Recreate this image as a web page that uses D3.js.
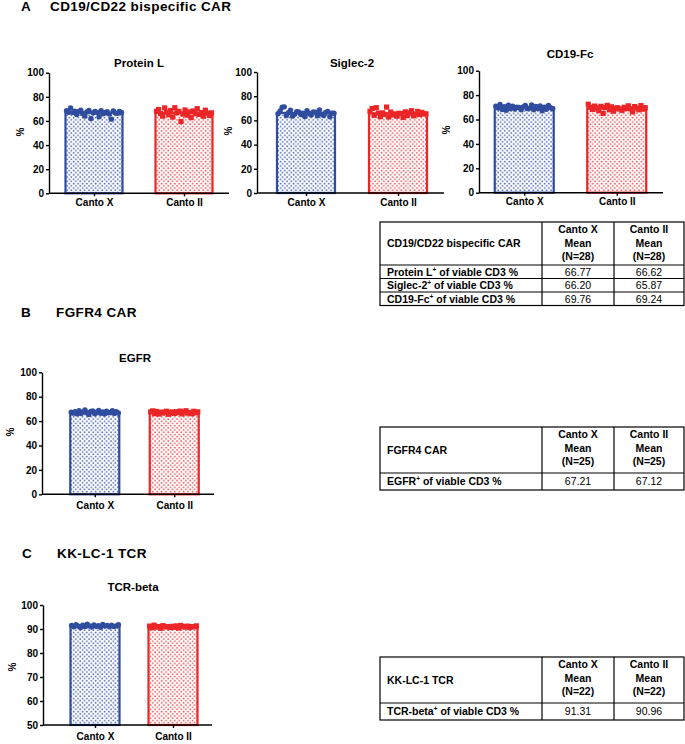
<!DOCTYPE html>
<html>
<head>
<meta charset="utf-8">
<script src="https://cdn.jsdelivr.net/npm/d3@7"></script>
<style>
body { margin: 0; background: #fff; }
text { font-family: "Liberation Sans", Arial, Helvetica, sans-serif; }
</style>
</head>
<body>
<script>
// categories and groups
var cats = ["Canto X", "Canto II"];
var ticksPct = [0, 20, 40, 60, 80, 100];
var ticksTcr = [50, 60, 70, 80, 90, 100];

// individual values (approx.)
var protLX = [68.5, 67.2, 70.8, 66.9, 68.1, 65.3, 67.8, 69.0, 66.2, 64.1, 67.5, 68.8, 62.0, 66.7,
              67.9, 67.1, 63.5, 68.4, 66.0, 67.0, 67.6, 65.8, 61.5, 68.2, 66.5, 66.3, 67.9, 67.0];
var protLII = [68.0, 69.5, 66.2, 64.0, 70.8, 67.3, 65.1, 68.7, 63.2, 71.0, 66.8, 67.9, 59.5, 65.7,
               69.1, 64.8, 67.5, 62.8, 68.3, 66.0, 70.2, 65.4, 67.0, 63.9, 68.9, 66.5, 64.6, 66.7];
var sigX = [65.5, 67.8, 70.9, 71.2, 64.0, 66.3, 68.5, 63.5, 65.0, 67.2, 67.0, 64.8, 66.0, 63.2,
            68.1, 65.7, 64.5, 67.0, 66.8, 63.8, 68.7, 65.2, 64.1, 66.5, 67.4, 63.0, 66.0, 65.9];
var sigII = [67.5, 69.8, 64.2, 70.5, 66.0, 63.1, 66.2, 65.0, 71.0, 62.8, 66.9, 64.5, 65.4, 63.5,
             65.9, 65.6, 62.5, 67.1, 64.0, 66.3, 68.0, 63.8, 65.2, 67.4, 64.8, 66.6, 65.4, 65.4];
var cd19X = [71.0, 69.5, 72.3, 68.2, 70.4, 67.5, 71.8, 69.0, 70.9, 68.6, 70.0, 69.8, 67.9, 70.2,
             71.5, 68.9, 69.3, 72.0, 68.0, 70.6, 69.1, 71.2, 67.2, 70.0, 68.4, 71.6, 69.6, 68.8];
var cd19II = [72.5, 70.1, 68.3, 71.0, 69.5, 67.2, 70.8, 65.0, 69.9, 71.6, 68.0, 70.4, 66.8, 69.2,
              69.6, 68.6, 67.5, 70.0, 69.0, 71.2, 68.8, 66.2, 70.6, 69.4, 67.9, 71.4, 68.5, 69.7];
var egfrX = [67.35, 66.5, 67.8, 65.9, 68.6, 66.2, 67.4, 69.1, 66.8, 65.5, 67.9, 68.3, 66.0,
             67.2, 68.8, 66.4, 67.6, 65.8, 68.1, 66.9, 67.0, 68.5, 66.3, 67.7, 66.6];
var egfrII = [67.5, 68.4, 66.1, 67.9, 65.8, 67.3, 66.6, 67.3, 68.1, 65.6, 67.0, 67.5, 66.3,
              67.7, 66.9, 68.2, 65.9, 67.4, 68.5, 66.5, 67.1, 66.0, 68.0, 66.8, 67.6];
var tcrX = [91.5, 90.9, 91.8, 91.2, 90.6, 91.6, 91.0, 92.0, 91.3, 90.8, 91.7,
            91.1, 91.4, 90.7, 91.9, 91.2, 91.5, 90.9, 91.6, 91.0, 91.3, 91.8];
var tcrII = [91.2, 90.5, 91.6, 90.8, 91.0, 90.3, 91.4, 90.9, 91.0, 90.6, 91.1,
             90.7, 91.3, 90.4, 91.5, 91.0, 90.8, 91.2, 90.6, 91.0, 90.9, 91.3];

// means from the tables (bar heights)
var meanProtL = [66.77, 66.62];
var meanSig = [66.20, 65.87];
var meanCd19 = [69.76, 69.24];
var meanEgfr = [67.21, 67.12];
var meanTcr = [91.31, 90.96];
var nA = [28, 28], nB = [25, 25], nC = [22, 22];

var cols = ["#2f4c9f", "#ec2527"];
var dotCols = ["#4862b8", "#ee4c4e"];

var svg = d3.select("body").append("svg")
    .attr("width", 685)
    .attr("height", 744);

// dotted fill
var defs = svg.append("defs");
[0, 1].forEach(function(i) {
    var p = defs.append("pattern")
        .attr("id", "dots" + i)
        .attr("patternUnits", "userSpaceOnUse")
        .attr("width", 4.4).attr("height", 4.4);
    p.append("rect").attr("width", 4.4).attr("height", 4.4).attr("fill", "#fff");
    p.append("rect").attr("x", 0.3).attr("y", 0.3).attr("width", 1.5).attr("height", 1.5).attr("fill", dotCols[i]);
    p.append("rect").attr("x", 2.5).attr("y", 2.5).attr("width", 1.5).attr("height", 1.5).attr("fill", dotCols[i]);
});

//panel headings
function heading(letter, title, xl, xt, y) {
    svg.append("text").attr("x", xl).attr("y", y).text(letter)
        .attr("font-size", "13.5px").attr("font-weight", "bold").attr("letter-spacing", "0.4px");
    svg.append("text").attr("x", xt).attr("y", y).text(title)
        .attr("font-size", "13.5px").attr("font-weight", "bold").attr("letter-spacing", "0.4px");
}
heading("A", "CD19/CD22 bispecific CAR", 21, 50, 11);
heading("B", "FGFR4 CAR", 21, 56, 317);
heading("C", "KK-LC-1 TCR", 22, 57, 558);

var charts = [
    {title: "Protein L", pts: [protLX, protLII], means: meanProtL, dom: [0, 100], ticks: ticksPct,
     ax: 49, band: [49, 229], yr: [193.3, 72.7], bw: 57, tx: 139, ty: 67, px: 20, py: 132, pad: 3},
    {title: "Siglec-2", pts: [sigX, sigII], means: meanSig, dom: [0, 100], ticks: ticksPct,
     ax: 257, band: [260, 444], yr: [193, 72], bw: 58, tx: 352, ty: 67, px: 228, py: 131, pad: 3},
    {title: "CD19-Fc", pts: [cd19X, cd19II], means: meanCd19, dom: [0, 100], ticks: ticksPct,
     ax: 479, band: [478, 663], yr: [192.7, 70.7], bw: 59, tx: 570, ty: 58, px: 446, py: 130, pad: 2.5},
    {title: "EGFR", pts: [egfrX, egfrII], means: meanEgfr, dom: [0, 100], ticks: ticksPct,
     ax: 42, band: [55, 214], yr: [494.3, 372.3], bw: 49, tx: 135, ty: 362, px: 10, py: 432, pad: 4.5},
    {title: "TCR-beta", pts: [tcrX, tcrII], means: meanTcr, dom: [50, 100], ticks: ticksTcr,
     ax: 43, band: [56, 212], yr: [725, 605], bw: 49, tx: 133, ty: 591, px: 12, py: 667, pad: 4.5}
];

function drawChart(c) {
    var x = d3.scalePoint().domain(cats).range(c.band).padding(0.5);
    var y = d3.scaleLinear().domain(c.dom).range(c.yr);
    var g = svg.append("g");

    // barres
    g.selectAll("rect.bar")
        .data(c.means)
        .enter()
        .append("rect")
        .attr("class", "bar")
        .attr("x", function(d, i) { return x(cats[i]) - c.bw / 2; })
        .attr("y", function(d) { return y(d); })
        .attr("width", c.bw)
        .attr("height", function(d) { return y(c.dom[0]) - y(d); })
        .attr("fill", function(d, i) { return "url(#dots" + i + ")"; })
        .attr("stroke", function(d, i) { return cols[i]; })
        .attr("stroke-width", 2.2);

    // points, spread over the bar width
    c.pts.forEach(function(arr, gi) {
        var x0 = x(cats[gi]) - c.bw / 2, n = arr.length;
        var sel = g.selectAll("p" + gi).data(arr).enter();
        if (gi === 0) {
            sel.append("circle")
                .attr("cx", function(d, i) { return x0 + c.bw * (i + 0.5) / n; })
                .attr("cy", function(d) { return y(d); })
                .attr("r", 2.7)
                .attr("fill", cols[0]);
        } else {
            sel.append("rect")
                .attr("x", function(d, i) { return x0 + c.bw * (i + 0.5) / n - 2.6; })
                .attr("y", function(d) { return y(d) - 2.6; })
                .attr("width", 5.2).attr("height", 5.2)
                .attr("fill", cols[1]);
        }
    });

    // axes
    var ya = g.append("g")
        .attr("transform", "translate(" + c.ax + ",0)")
        .call(d3.axisLeft(y).tickValues(c.ticks).tickSize(3).tickSizeOuter(0).tickPadding(2));
    var xa = g.append("g")
        .attr("transform", "translate(0," + c.yr[0] + ")")
        .call(d3.axisBottom(x).tickSize(3).tickSizeOuter(0).tickPadding(c.pad));
    xa.select(".domain").remove();
    g.append("line")
        .attr("x1", c.ax).attr("x2", c.band[1])
        .attr("y1", c.yr[0]).attr("y2", c.yr[0])
        .attr("stroke", "#000").attr("stroke-width", 1.4);
    [ya, xa].forEach(function(a) {
        a.attr("font-family", null).attr("font-size", null);
        a.selectAll("text").attr("font-size", "10px").attr("font-weight", "bold").attr("fill", "#000");
        a.selectAll("line").attr("stroke", "#000").attr("stroke-width", 1.4);
        a.selectAll(".domain").attr("stroke", "#000").attr("stroke-width", 1.4);
    });

    // titre et libellé
    g.append("text").text(c.title)
        .attr("x", c.tx).attr("y", c.ty)
        .attr("text-anchor", "middle")
        .attr("font-size", "11.5px").attr("font-weight", "bold");
    g.append("text").text("%")
        .attr("transform", "translate(" + c.px + "," + c.py + ") rotate(-90)")
        .attr("text-anchor", "middle")
        .attr("dy", "0.35em")
        .attr("font-size", "10px").attr("font-weight", "bold");
}
charts.forEach(drawChart);

// tables
var colW = [162, 72, 70];
var tables = [
    {x: 380, y: 222, headH: 43, rowH: 13.5, title: "CD19/CD22 bispecific CAR", n: nA,
     rows: [["Protein L", " of viable CD3 %", meanProtL],
            ["Siglec-2", " of viable CD3 %", meanSig],
            ["CD19-Fc", " of viable CD3 %", meanCd19]]},
    {x: 380, y: 427, headH: 46, rowH: 17, title: "FGFR4 CAR", n: nB,
     rows: [["EGFR", " of viable CD3 %", meanEgfr]]},
    {x: 380, y: 657, headH: 46, rowH: 17, title: "KK-LC-1 TCR", n: nC,
     rows: [["TCR-beta", " of viable CD3 %", meanTcr]]}
];

function drawTable(t) {
    var g = svg.append("g");
    var xs = [t.x, t.x + colW[0], t.x + colW[0] + colW[1], t.x + colW[0] + colW[1] + colW[2]];
    var H = t.headH + t.rows.length * t.rowH;
    g.append("rect")
        .attr("x", xs[0]).attr("y", t.y)
        .attr("width", xs[3] - xs[0]).attr("height", H)
        .attr("fill", "none").attr("stroke", "#000").attr("stroke-width", 1.2);
    [xs[1], xs[2]].forEach(function(xx) {
        g.append("line").attr("x1", xx).attr("x2", xx).attr("y1", t.y).attr("y2", t.y + H)
            .attr("stroke", "#000").attr("stroke-width", 1.2);
    });
    t.rows.forEach(function(r, k) {
        var yy = t.y + t.headH + k * t.rowH;
        g.append("line").attr("x1", xs[0]).attr("x2", xs[3]).attr("y1", yy).attr("y2", yy)
            .attr("stroke", "#000").attr("stroke-width", 1.2);
    });

    // header
    g.append("text").text(t.title)
        .attr("x", xs[0] + 7).attr("y", t.y + t.headH / 2 + 3.8)
        .attr("font-size", "10.5px").attr("font-weight", "bold");
    cats.forEach(function(cat, ci) {
        var cx = (xs[ci + 1] + xs[ci + 2]) / 2;
        [cat, "Mean", "(N=" + t.n[ci] + ")"].forEach(function(s, li) {
            g.append("text").text(s)
                .attr("x", cx).attr("y", t.y + [11, 25, 38][li])
                .attr("text-anchor", "middle")
                .attr("font-size", "10.5px").attr("font-weight", "bold");
        });
    });

    // rows
    t.rows.forEach(function(r, k) {
        var by = t.y + t.headH + k * t.rowH + t.rowH / 2 + 3.8;
        var tx = g.append("text")
            .attr("x", xs[0] + 7).attr("y", by)
            .attr("font-size", "10.5px").attr("font-weight", "bold");
        tx.append("tspan").text(r[0]);
        tx.append("tspan").text("+").attr("font-size", "6.5px").attr("dy", "-4");
        tx.append("tspan").text(r[1]).attr("dy", "4");
        r[2].forEach(function(v, ci) {
            g.append("text").text(v.toFixed(2))
                .attr("x", (xs[ci + 1] + xs[ci + 2]) / 2).attr("y", by)
                .attr("text-anchor", "middle")
                .attr("font-size", "10.5px");
        });
    });
}
tables.forEach(drawTable);
</script>
</body>
</html>
